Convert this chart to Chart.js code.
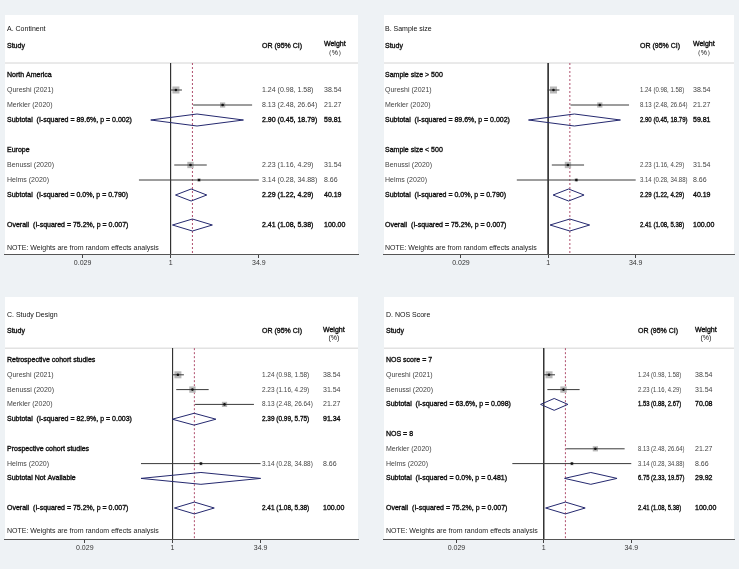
<!DOCTYPE html>
<html><head><meta charset="utf-8">
<script src="https://cdn.jsdelivr.net/npm/chart.js@4.4.1/dist/chart.umd.min.js"></script>
<style>
html,body{margin:0;padding:0;background:#eef2f5;width:739px;height:569px;overflow:hidden;position:relative;}
canvas{position:absolute;display:block;}
</style></head><body>
<canvas id="cA"></canvas><canvas id="cB"></canvas><canvas id="cC"></canvas><canvas id="cD"></canvas>
<script>
// ---------- DATA ----------
const tickValues = [0.029, 1, 34.9];
const noteText = "NOTE: Weights are from random effects analysis";

// Panel A: Continent
const titleA = "A. Continent";
const labelsA = ["North America","Qureshi (2021)","Merkler (2020)","Subtotal  (I-squared = 89.6%, p = 0.002)","","Europe","Benussi (2020)","Helms (2020)","Subtotal  (I-squared = 0.0%, p = 0.790)","","Overall  (I-squared = 75.2%, p = 0.007)"];
const kindsA  = ["g","s","s","t","","g","s","s","t","","o"];
const orA     = [null,1.24,8.13,2.90,null,null,2.23,3.14,2.29,null,2.41];
const loA     = [null,0.98,2.48,0.45,null,null,1.16,0.28,1.22,null,1.08];
const hiA     = [null,1.58,26.64,18.79,null,null,4.29,34.88,4.29,null,5.38];
const weightA = [null,38.54,21.27,59.81,null,null,31.54,8.66,40.19,null,100.00];

// Panel B: Sample size
const titleB = "B. Sample size";
const labelsB = ["Sample size > 500","Qureshi (2021)","Merkler (2020)","Subtotal  (I-squared = 89.6%, p = 0.002)","","Sample size < 500","Benussi (2020)","Helms (2020)","Subtotal  (I-squared = 0.0%, p = 0.790)","","Overall  (I-squared = 75.2%, p = 0.007)"];
const kindsB  = ["g","s","s","t","","g","s","s","t","","o"];
const orB     = [null,1.24,8.13,2.90,null,null,2.23,3.14,2.29,null,2.41];
const loB     = [null,0.98,2.48,0.45,null,null,1.16,0.28,1.22,null,1.08];
const hiB     = [null,1.58,26.64,18.79,null,null,4.29,34.88,4.29,null,5.38];
const weightB = [null,38.54,21.27,59.81,null,null,31.54,8.66,40.19,null,100.00];

// Panel C: Study Design
const titleC = "C. Study Design";
const labelsC = ["Retrospective cohort studies","Qureshi (2021)","Benussi (2020)","Merkler (2020)","Subtotal  (I-squared = 82.9%, p = 0.003)","","Prospective cohort studies","Helms (2020)","Subtotal Not Available","","Overall  (I-squared = 75.2%, p = 0.007)"];
const kindsC  = ["g","s","s","s","t","","g","s","n","","o"];
const orC     = [null,1.24,2.23,8.13,2.39,null,null,3.14,3.14,null,2.41];
const loC     = [null,0.98,1.16,2.48,0.99,null,null,0.28,0.28,null,1.08];
const hiC     = [null,1.58,4.29,26.64,5.75,null,null,34.88,34.88,null,5.38];
const weightC = [null,38.54,31.54,21.27,91.34,null,null,8.66,null,null,100.00];

// Panel D: NOS Score
const titleD = "D. NOS Score";
const labelsD = ["NOS score = 7","Qureshi (2021)","Benussi (2020)","Subtotal  (I-squared = 63.6%, p = 0.098)","","NOS = 8","Merkler (2020)","Helms (2020)","Subtotal  (I-squared = 0.0%, p = 0.481)","","Overall  (I-squared = 75.2%, p = 0.007)"];
const kindsD  = ["g","s","s","t","","g","s","s","t","","o"];
const orD     = [null,1.24,2.23,1.53,null,null,8.13,3.14,6.75,null,2.41];
const loD     = [null,0.98,1.16,0.88,null,null,2.48,0.28,2.33,null,1.08];
const hiD     = [null,1.58,4.29,2.67,null,null,26.64,34.88,19.57,null,5.38];
const weightD = [null,38.54,31.54,70.08,null,null,21.27,8.66,29.92,null,100.00];

// ---------- LAYOUT (page pixels) ----------
const panels = [
 {el:'cA', title:titleA, labels:labelsA, kinds:kindsA, or:orA, lo:loA, hi:hiA, w:weightA, pct:'（%）',
  g:{left:0,top:0,w:369,h:283, pl:2,pr:358,pt:15,pb:254, x1:169,k:25.05, row0:75,step:15, colS:7,colOR:262,colW:324, sq:1.0}},
 {el:'cB', title:titleB, labels:labelsB, kinds:kindsB, or:orB, lo:loB, hi:hiB, w:weightB, pct:'（%）',
  g:{left:379,top:0,w:360,h:283, pl:381,pr:737,pt:15,pb:254, x1:548,k:25.05, row0:75,step:15, colS:385,colOR:640,colW:693, sq:0.86}},
 {el:'cC', title:titleC, labels:labelsC, kinds:kindsC, or:orC, lo:loC, hi:hiC, w:weightC, pct:'(%)',
  g:{left:0,top:283,w:369,h:286, pl:2,pr:358,pt:297,pb:539, x1:171,k:25, row0:360,step:14.8, colS:7,colOR:262,colW:323, sq:0.92}},
 {el:'cD', title:titleD, labels:labelsD, kinds:kindsD, or:orD, lo:loD, hi:hiD, w:weightD, pct:'(%)',
  g:{left:379,top:283,w:360,h:286, pl:382,pr:737,pt:297,pb:539, x1:544,k:25, row0:360,step:14.8, colS:386,colOR:638,colW:695, sq:0.84}}
];

const FONT = '"Liberation Sans", Arial, sans-serif';
const ROW_TITLE = -3.05, ROW_STUDY = -1.95, ROW_LINE = -0.8, ROW_NOTE = 11.55;

function fmt(v){ return v.toFixed(2); }

function makeChart(p){
  const g = p.g;
  const cv = document.getElementById(p.el);
  cv.width = g.w; cv.height = g.h;
  cv.style.left = g.left+'px'; cv.style.top = g.top+'px';
  cv.style.width = g.w+'px'; cv.style.height = g.h+'px';

  const xmin = Math.exp((g.pl - g.x1)/g.k);
  const xmax = Math.exp((g.pr - g.x1)/g.k);
  const ymin = -(g.row0 - g.pt)/g.step;
  const ymax = ymin + (g.pb - g.pt)/g.step;

  const idx = p.labels.map((_,i)=>i);
  const studies = idx.filter(i=>p.kinds[i]==='s');
  const pooled = idx.filter(i=>['t','n','o'].includes(p.kinds[i]));
  const overallIdx = idx.find(i=>p.kinds[i]==='o');

  const ds = [];
  ds.push({type:'scatter', data:studies.map(i=>({x:p.or[i],y:i})), pointStyle:'circle', pointRadius:1.3,
           backgroundColor:'#111', borderWidth:0});
  studies.forEach(i=>ds.push({type:'line', data:[{x:p.lo[i],y:i},{x:p.hi[i],y:i}], borderColor:'#3a3a3a',
           borderWidth:1, pointRadius:0}));
  ds.push({type:'scatter', data:studies.map(i=>({x:p.or[i],y:i})), pointStyle:'rect',
           pointRadius:studies.map(i=>Math.sqrt(p.w[i])*0.8), backgroundColor:'#b9b9b9', borderWidth:0});
  pooled.forEach(i=>ds.push({type:'line', data:[{x:p.lo[i],y:i},{x:p.or[i],y:i-0.4},{x:p.hi[i],y:i},{x:p.or[i],y:i+0.4},{x:p.lo[i],y:i}],
           borderColor:'#25296f', borderWidth:1, pointRadius:0, tension:0}));
  ds.push({type:'line', data:[{x:p.or[overallIdx],y:ROW_LINE},{x:p.or[overallIdx],y:ymax}], borderColor:'#b0506e',
           borderWidth:1, borderDash:[2,2], pointRadius:0});
  ds.push({type:'line', data:[{x:1,y:ROW_LINE},{x:1,y:ymax}], borderColor:'#333', borderWidth:1, pointRadius:0});
  ds.push({type:'line', data:[{x:xmin,y:ROW_LINE},{x:xmax,y:ROW_LINE}], borderColor:'#d4d4d4', borderWidth:1, pointRadius:0});

  const bgPlugin = {id:'bg', beforeDraw(c){
    const ctx=c.ctx, a=c.chartArea;
    ctx.save(); ctx.fillStyle='#eef2f5'; ctx.fillRect(0,0,c.width,c.height);
    ctx.fillStyle='#ffffff'; ctx.fillRect(a.left,a.top,a.right-a.left,a.bottom-a.top); ctx.restore();
  }};
  function txt(ctx, s, x, y, heavy, squeeze){
    ctx.save(); ctx.translate(x,y); if(squeeze && squeeze!==1) ctx.scale(squeeze,1);
    ctx.fillText(s,0,0);
    if(heavy){ ctx.lineWidth=0.35; ctx.strokeStyle=ctx.fillStyle; ctx.strokeText(s,0,0); }
    ctx.restore();
  }
  const txtPlugin = {id:'txt', afterDatasetsDraw(c){
    const ctx=c.ctx, ys=c.scales.y;
    const X = v=>v-g.left;
    const Y = r=>ys.getPixelForValue(r);
    ctx.save(); ctx.textBaseline='middle'; ctx.textAlign='left';
    ctx.font='7px '+FONT;
    ctx.fillStyle='#111';
    txt(ctx, p.title, X(g.colS), Y(ROW_TITLE), false);
    txt(ctx, 'Study', X(g.colS), Y(ROW_STUDY), true);
    txt(ctx, 'OR (95% CI)', X(g.colOR), Y(ROW_STUDY), true);
    txt(ctx, 'Weight', X(g.colW), Y(ROW_STUDY-0.08), true);
    const ww = ctx.measureText('Weight').width;
    ctx.textAlign='center';
    txt(ctx, p.pct, X(g.colW)+ww/2, Y(ROW_STUDY+0.5), false);
    ctx.textAlign='left';
    p.labels.forEach((lab,i)=>{
      const k=p.kinds[i]; if(!k) return;
      const heavy = k!=='s';
      ctx.fillStyle = heavy ? '#111' : '#444';
      txt(ctx, lab, X(g.colS), Y(i), heavy);
      if(k==='s'||k==='t'||k==='o'){
        txt(ctx, fmt(p.or[i])+' ('+fmt(p.lo[i])+', '+fmt(p.hi[i])+')', X(g.colOR), Y(i), heavy, g.sq);
        txt(ctx, fmt(p.w[i]), X(g.colW), Y(i), heavy);
      }
    });
    ctx.fillStyle='#222';
    txt(ctx, noteText, X(g.colS), Y(ROW_NOTE), false);
    ctx.restore();
  }};

  return new Chart(cv, {
    type:'line',
    data:{datasets:ds},
    options:{
      responsive:false, animation:false, devicePixelRatio:1,
      layout:{padding:{left:g.pl-g.left, right:(g.left+g.w)-g.pr, top:g.pt-g.top, bottom:0}},
      plugins:{legend:{display:false}, tooltip:{enabled:false}},
      elements:{line:{tension:0}},
      scales:{
        x:{type:'logarithmic', min:xmin, max:xmax,
           afterBuildTicks:s=>{ s.ticks = tickValues.map(v=>({value:v})); },
           afterFit:s=>{ s.height = (g.top+g.h)-g.pb; },
           ticks:{autoSkip:false, maxRotation:0, padding:1, color:'#333', font:{family:FONT,size:7},
                  callback:(v)=>String(v)},
           grid:{drawOnChartArea:false, drawTicks:true, tickLength:4, color:'#444'},
           border:{display:true, color:'#555', width:1}},
        y:{type:'linear', reverse:true, min:ymin, max:ymax, display:false}
      }
    },
    plugins:[bgPlugin, txtPlugin]
  });
}
panels.forEach(makeChart);
</script>
</body></html>
